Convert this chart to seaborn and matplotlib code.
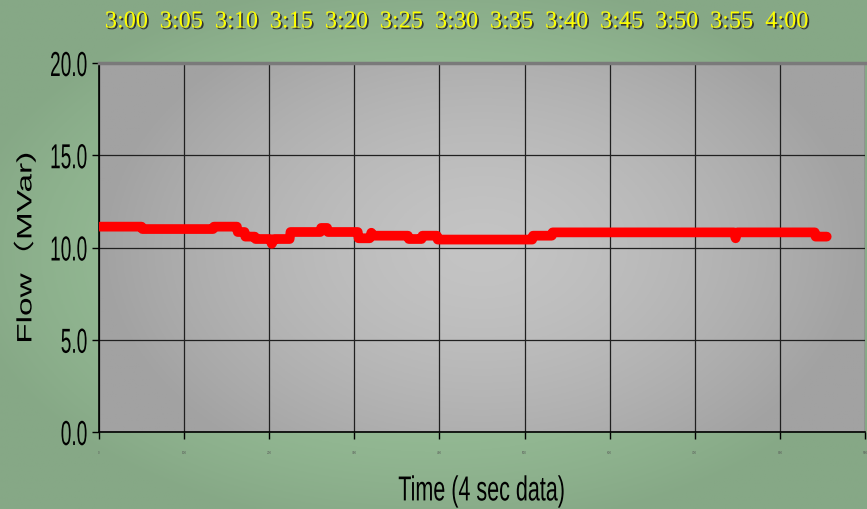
import numpy as np
import matplotlib
matplotlib.use("Agg")
import matplotlib.pyplot as plt
import matplotlib.patheffects as pe
from matplotlib.transforms import Affine2D
import pandas as pd
import seaborn as sns

# step points of the flow trace (sample index, 4 s per sample)
samples = [1, 50, 51, 134, 135, 162, 163, 171, 172, 183, 184, 201, 203, 206, 207,
           224, 225, 260, 261, 268, 269, 304, 305, 318, 320, 322, 363, 364, 379,
           380, 397, 398, 509, 510, 532, 533, 746, 748, 750, 841, 842, 855]
flow = [11.13, 11.13, 11.0, 11.0, 11.13, 11.13, 10.84, 10.84, 10.59, 10.59, 10.46,
        10.46, 10.2, 10.46, 10.46, 10.46, 10.84, 10.84, 11.06, 11.06, 10.84, 10.84,
        10.5, 10.5, 10.8, 10.64, 10.64, 10.46, 10.46, 10.64, 10.64, 10.43, 10.43,
        10.64, 10.64, 10.82, 10.82, 10.5, 10.82, 10.82, 10.59, 10.59]

time_labels = ["3:00", "3:05", "3:10", "3:15", "3:20", "3:25", "3:30",
               "3:35", "3:40", "3:45", "3:50", "3:55", "4:00"]
y_ticks = [0, 5, 10, 15, 20]
x_ticks = list(range(0, 901, 100))


class Stretch(pe.AbstractPathEffect):
    # squeeze / widen glyphs along the text direction (narrow fonts aren't installed)
    def __init__(self, sx, anchor="center"):
        super().__init__()
        self.sx = sx
        self.anchor = anchor

    def draw_path(self, renderer, gc, tpath, affine, rgbFace=None):
        ext = tpath.get_extents()
        if self.anchor == "right":
            a = ext.x1
        elif self.anchor == "left":
            a = ext.x0
        else:
            a = (ext.x0 + ext.x1) / 2
        t = Affine2D().translate(-a, 0).scale(self.sx, 1).translate(a, 0) + affine
        renderer.draw_path(gc, tpath, t, rgbFace)


df = pd.DataFrame({"sample": samples, "flow": flow})

sns.set_style("white")
fig = plt.figure(figsize=(8.67, 5.10), dpi=100)

# green background gradient
bg = fig.add_axes([0, 0, 1, 1], zorder=-10)
gx, gy = np.meshgrid(np.linspace(-1, 1, 400), np.linspace(-1, 1, 240))
r = np.clip(np.sqrt((gx / 1.1) ** 2 + (gy / 1.1) ** 2), 0, 1)
c_in = np.array([0x9c, 0xc4, 0x9c]) / 255
c_out = np.array([0x86, 0xa8, 0x86]) / 255
img = c_in + (c_out - c_in) * r[..., None] ** 2
bg.imshow(img, aspect="auto", extent=[0, 1, 0, 1])
bg.axis("off")

ax = fig.add_axes([99 / 867, 77 / 510, 766 / 867, 369 / 510])

# grey plot area gradient
px, py = np.meshgrid(np.linspace(-1, 1, 400), np.linspace(-1, 1, 200))
pr = np.clip(np.sqrt(px ** 2 + (py / 1.4) ** 2), 0, 1)
p_in = np.array([0xc4, 0xc4, 0xc4]) / 255
p_out = np.array([0xa2, 0xa2, 0xa2]) / 255
pimg = p_in + (p_out - p_in) * pr[..., None] ** 1.5
ax.imshow(pimg, aspect="auto", extent=[0, 900, 0, 20], zorder=0)

sns.lineplot(data=df, x="sample", y="flow", ax=ax, color="#ff0000",
             linewidth=7, solid_capstyle="round", solid_joinstyle="round",
             zorder=5)

ax.set_xlim(0, 900)
ax.set_ylim(0, 20)
ax.set_xticks(x_ticks)
ax.set_xticklabels([str(v) for v in x_ticks], fontsize=2, color="#555555")
ax.set_yticks(y_ticks)
ax.set_yticklabels([f"{v:.1f}" for v in y_ticks], family="Liberation Sans",
                   fontsize=25, color="black",
                   path_effects=[Stretch(0.55, "right")])
ax.grid(True, color="#202020", linewidth=0.9)
for line in ax.get_xgridlines() + ax.get_ygridlines():
    line.set_zorder(2)
ax.tick_params(axis="both", direction="out", length=5, width=1, color="black",
               left=True, bottom=True)
ax.tick_params(axis="y", pad=3)
ax.tick_params(axis="x", pad=8)
for s in ["left", "bottom"]:
    ax.spines[s].set_color("black")
    ax.spines[s].set_linewidth(1.2)
ax.spines["top"].set_color("#7a7a7a")
ax.spines["top"].set_linewidth(2.5)
ax.spines["right"].set_visible(False)

ax.set_xlabel("Time (4 sec data)", family="Liberation Sans", fontsize=25,
              color="black", path_effects=[Stretch(0.62)])
ax.xaxis.set_label_coords(0.5, -0.115)
ax.set_ylabel("Flow（MVar)", family=["Liberation Sans", "Noto Sans CJK SC"],
              fontsize=15, color="black", path_effects=[Stretch(1.6)])
ax.yaxis.set_label_coords(-0.083, 0.5)

# clock labels along the top
top = ax.twiny()
top.set_xlim(0, 900)
top_pos = np.linspace(32, 808, len(time_labels))
top.set_xticks(top_pos)
top.set_xticklabels(time_labels, family=["Liberation Serif", "DejaVu Serif"],
                    fontsize=17.5, color="#ffff00",
                    path_effects=[pe.withSimplePatchShadow(offset=(1.2, -1.2),
                                                           shadow_rgbFace="#2a2a2a",
                                                           alpha=0.9)])
top.tick_params(axis="x", length=0, pad=22)
for s in top.spines.values():
    s.set_visible(False)

fig.savefig("out.png", dpi=100)
